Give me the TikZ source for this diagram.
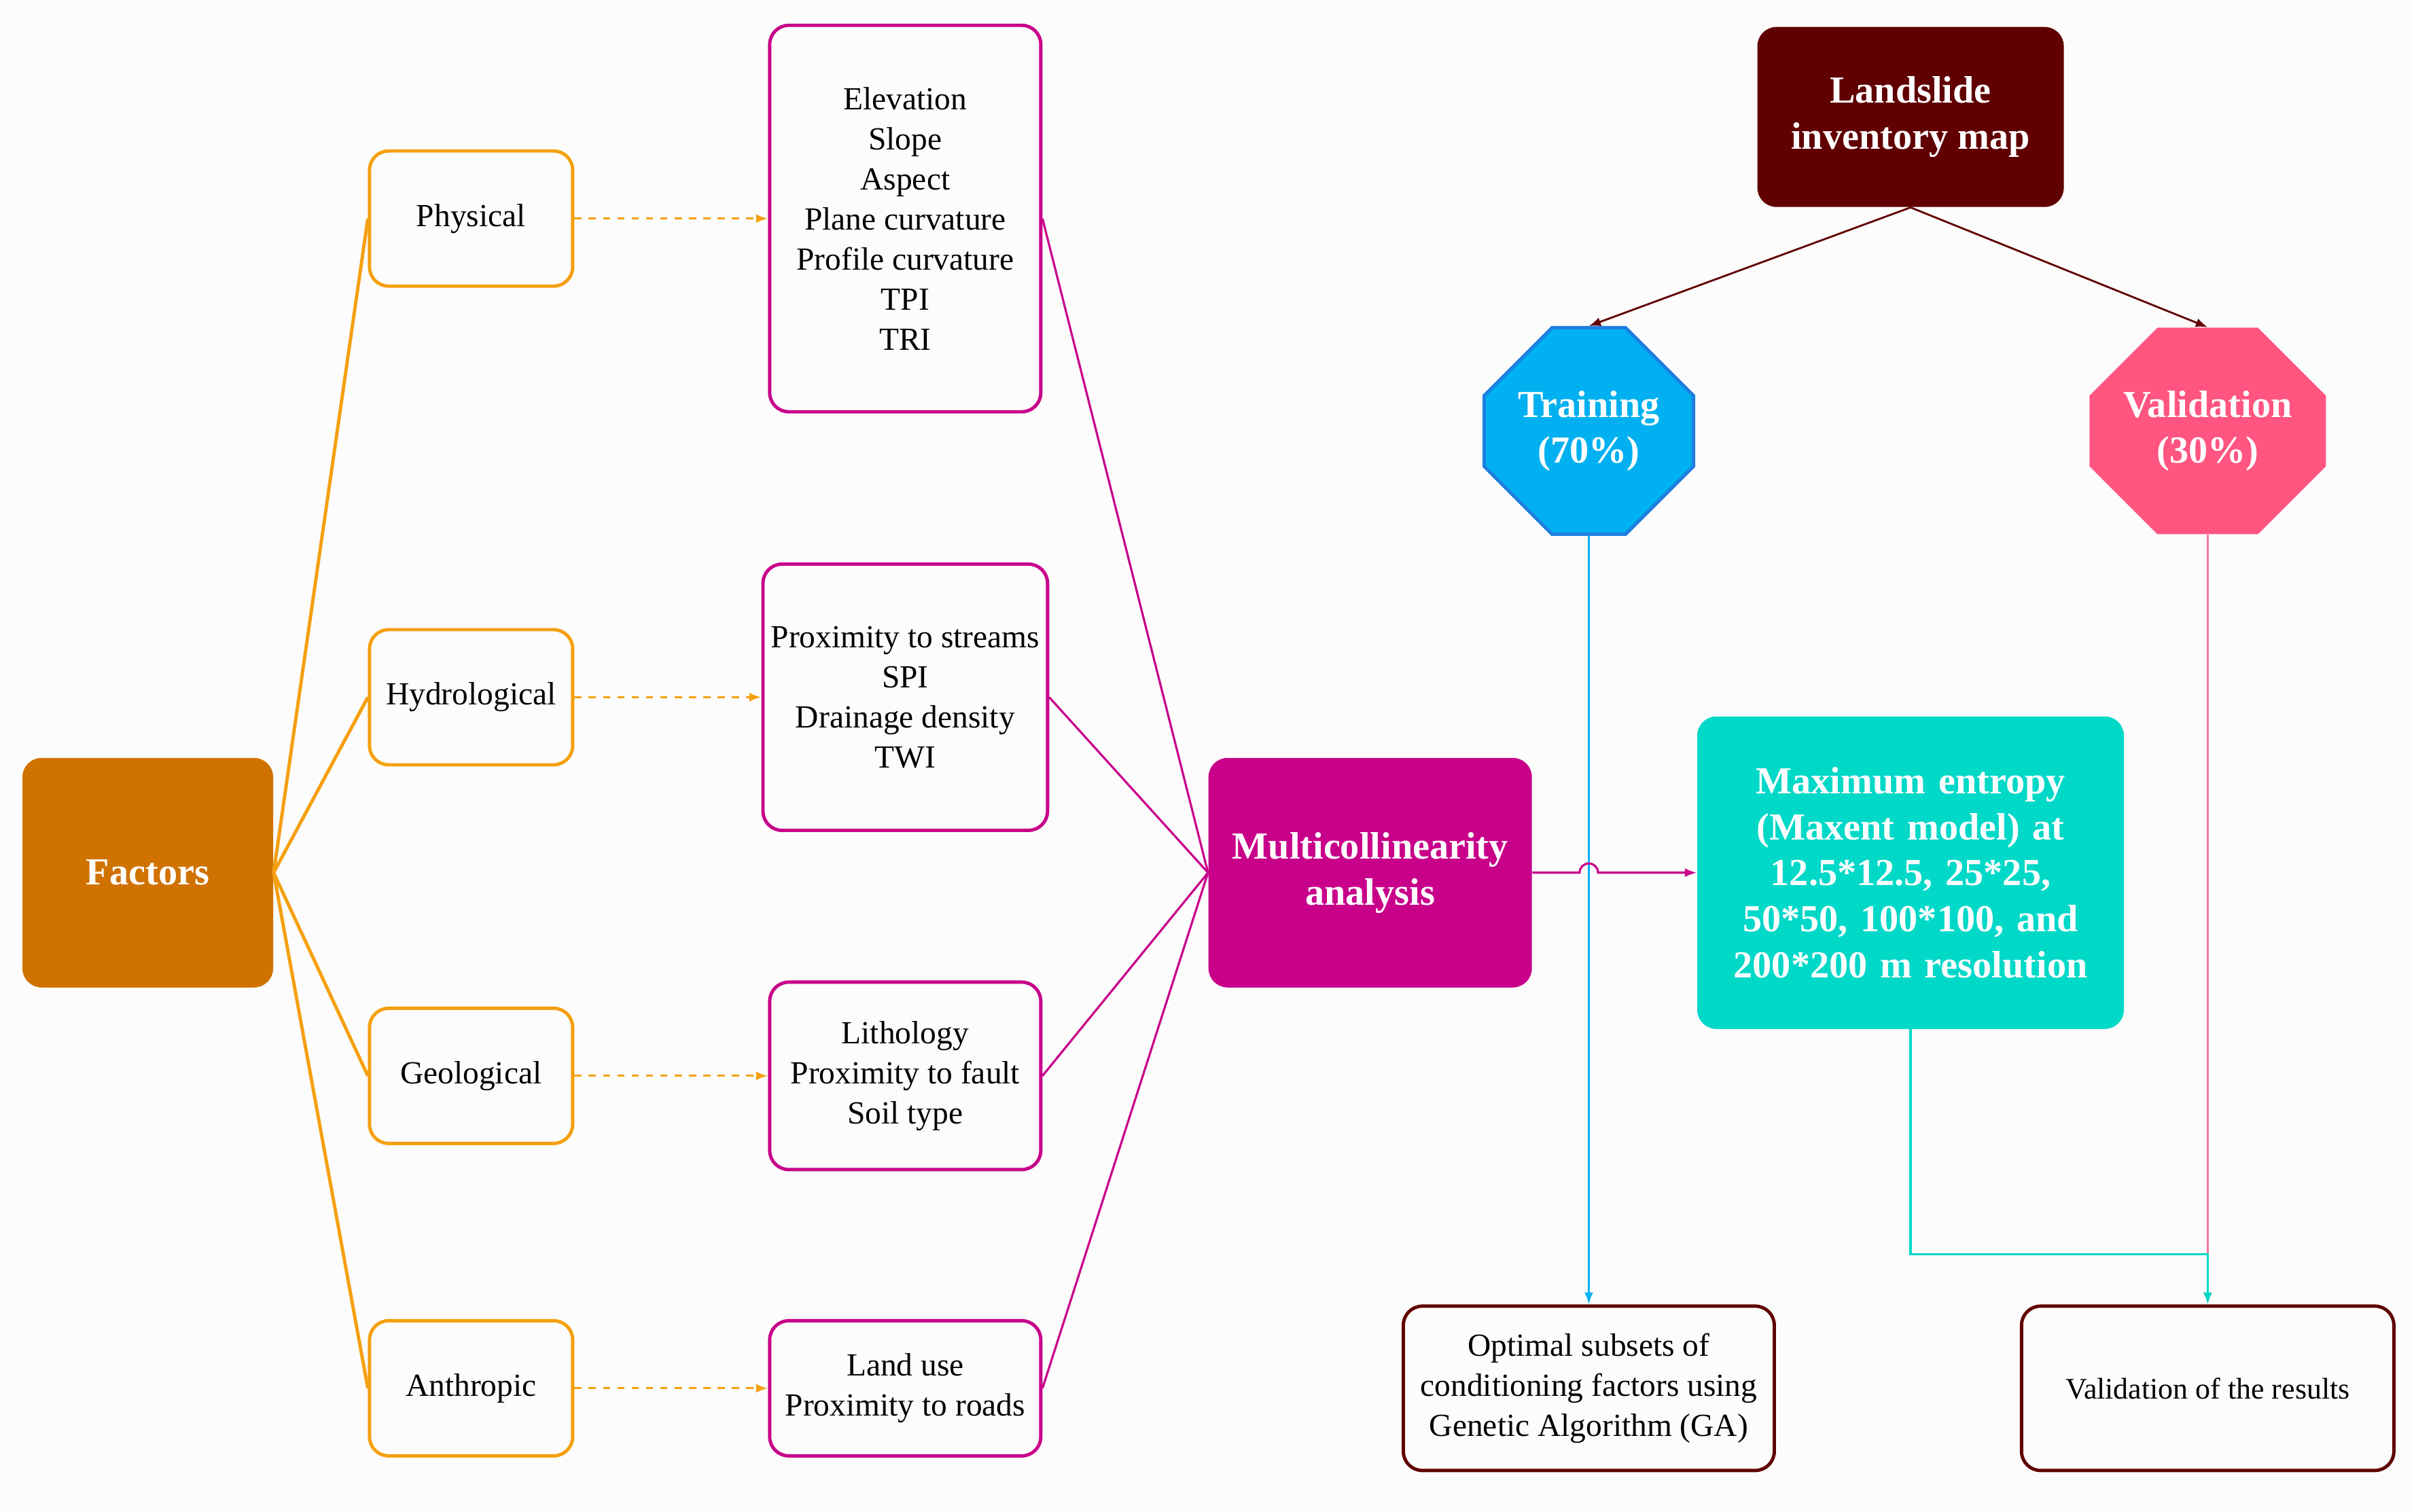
\documentclass[tikz,border=0pt]{standalone}
\usepackage{fontspec}
\setmainfont{Liberation Serif}
\usetikzlibrary{shapes.misc,arrows.meta}
\definecolor{orng}{HTML}{F5A00F}
\definecolor{fact}{HTML}{D07200}
\definecolor{mag}{HTML}{C8008A}
\definecolor{dred}{HTML}{600000}
\definecolor{trn}{HTML}{00B0F0}
\definecolor{trnb}{HTML}{1E7FE0}
\definecolor{val}{HTML}{FF5580}
\definecolor{teal}{HTML}{00D8C8}
\begin{document}
\begin{tikzpicture}[x=0.02266cm,y=-0.02266cm,
 txt/.style={font=\fontsize{13.5}{16.8}\selectfont,align=center},
 btxt/.style={font=\fontsize{16}{19.3}\selectfont\bfseries,align=center,text=white},
 ob/.style={txt,draw=orng,line width=1.4pt,rounded corners=8pt,minimum width=2.99cm,minimum height=1.99cm},
 mb/.style={txt,draw=mag,line width=1.4pt,rounded corners=8pt,minimum width=3.99cm},
 rb/.style={txt,draw=dred,line width=1.4pt,rounded corners=8pt,minimum height=2.42cm},
 fb/.style={btxt,rounded corners=8pt},
 oct/.style={btxt,chamfered rectangle,chamfered rectangle xsep=0.5cm,chamfered rectangle ysep=0.5cm,minimum width=3.01cm,minimum height=3.04cm,inner sep=0pt},
 darr/.style={orng,dashed,line width=0.9pt,-{Latex[length=5pt]}}]
\fill[white!99!black] (0,0) rectangle (1568,982);
\useasboundingbox (0,0) rectangle (1568,982);
\node[fb,fill=fact,minimum width=3.69cm,minimum height=3.38cm] (F) at (96,567) {Factors};
\node[ob] (P) at (306,142) {Physical};
\node[ob] (H) at (306,453) {Hydrological};
\node[ob] (G) at (306,699) {Geological};
\node[ob] (A) at (306,902) {Anthropic};
\node[mb,minimum height=5.69cm] (B1) at (588,142) {Elevation\\Slope\\Aspect\\Plane curvature\\Profile curvature\\TPI\\TRI};
\node[mb,minimum height=3.92cm] (B2) at (588,453) {Proximity to streams\\SPI\\Drainage density\\TWI};
\node[mb,minimum height=2.76cm] (B3) at (588,699) {Lithology\\Proximity to fault\\Soil type};
\node[mb,minimum height=1.99cm] (B4) at (588,902) {Land use\\Proximity to roads};
\node[fb,fill=mag,minimum width=4.76cm,minimum height=3.38cm] (M) at (890,567) {Multicollinearity\\analysis};
\node[fb,fill=dred,minimum width=4.51cm,minimum height=2.65cm] (L) at (1241,76) {Landslide\\inventory map};
\node[oct,fill=trn,draw=trnb,line width=1.4pt] (T) at (1032,280) {Training\\(70\%)};
\node[oct,fill=val] (V) at (1434,280) {Validation\\(30\%)};
\node[fb,fill=teal,minimum width=6.28cm,minimum height=4.6cm,text width=5.6cm] (X) at (1241,567) {Maximum entropy (Maxent model) at 12.5*12.5, 25*25, 50*50, 100*100, and 200*200 m resolution};
\node[rb,minimum width=5.46cm] (O) at (1032,902) {Optimal subsets of\\conditioning factors using\\Genetic Algorithm (GA)};
\node[rb,minimum width=5.48cm,font=\fontsize{12.5}{16}\selectfont] (R) at (1434,902) {Validation of the results};
\foreach \n in {P,H,G,A} \draw[orng,line width=1.4pt] (F.east) -- (\n.west);
\draw[darr] (P) -- (B1); \draw[darr] (H) -- (B2); \draw[darr] (G) -- (B3); \draw[darr] (A) -- (B4);
\foreach \n in {B1,B2,B3,B4} \draw[mag,line width=0.9pt] (\n.east) -- (M.west);
\draw[dred,line width=0.8pt,-{Latex[length=5pt]}] (L.south) -- (T.north);
\draw[dred,line width=0.8pt,-{Latex[length=5pt]}] (L.south) -- (V.north);
\draw[trn,line width=0.9pt,-{Latex[length=5pt]}] (T.south) -- (O.north);
\draw[val!80,line width=0.9pt,-{Latex[length=5pt]}] (V.south) -- (R.north);
\coordinate (c1) at (1241,815);
\draw[teal,line width=0.9pt,-{Latex[length=5pt]}] (X.south) -- (c1) -| (R.north);
\draw[mag,line width=0.9pt,-{Latex[length=5pt]}] (M.east) -- (1026,567) arc (180:360:6) -- (X.west);
\end{tikzpicture}
\end{document}
